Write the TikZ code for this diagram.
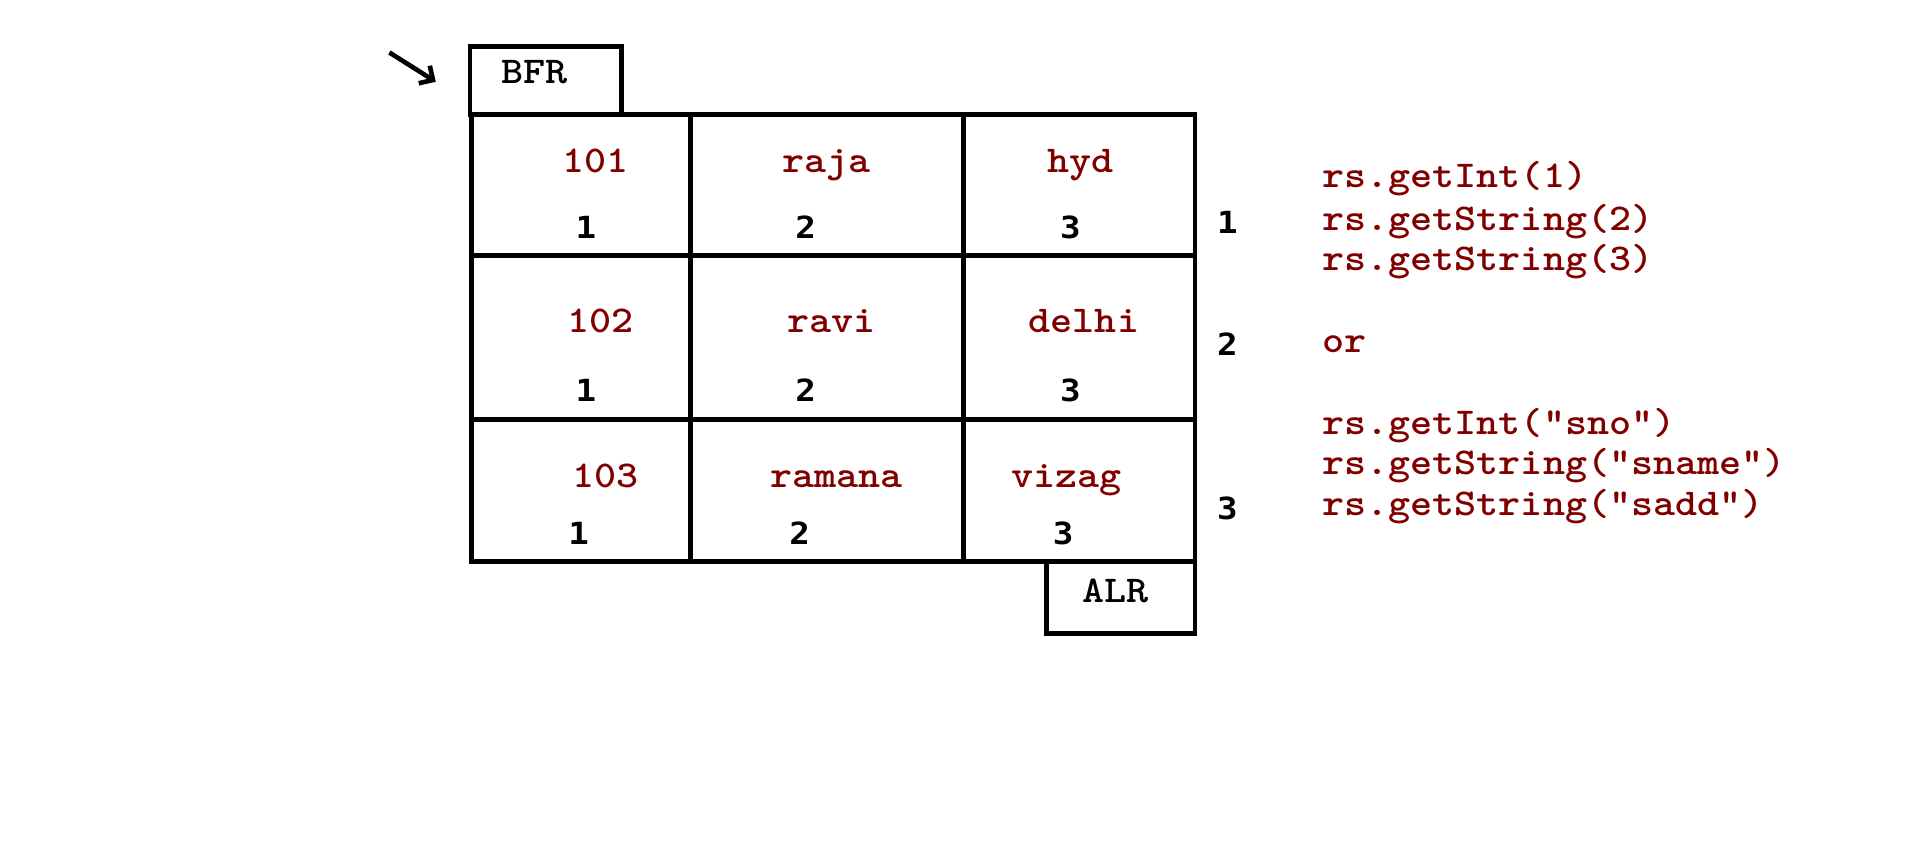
\documentclass[tikz,border=0pt]{standalone}
\usepackage{fontspec}
\newfontfamily\codefont{lmmonolt10-bold.otf}[FakeStretch=1.11]
\newfontfamily\numfont[FakeStretch=1.12]{DejaVu Sans Mono}
\usetikzlibrary{arrows.meta}

\tikzset{
  redval/.style={anchor=base,inner sep=0pt,font=\codefont\fontsize{15.5}{18}\selectfont,text={rgb,255:red,128;green,0;blue,0}},
  blkval/.style={anchor=base,inner sep=0pt,font=\codefont\fontsize{15.5}{18}\selectfont},
  idxnum/.style={anchor=base,inner sep=0pt,font=\numfont\bfseries\fontsize{12.5}{15}\selectfont},
  codeln/.style={anchor=base west,inner sep=0pt,font=\codefont\fontsize{15.5}{18}\selectfont,text={rgb,255:red,128;green,0;blue,0}},
  boxline/.style={line width=2pt}
}

\begin{document}
\begin{tikzpicture}[x=0.5pt,y=0.5pt,yscale=-1,xscale=1]
\useasboundingbox (0,0) rectangle (1568,710);

%Shape: BFR box
\draw [boxline] (385,38) rectangle (509,94);
%Shape: table
\draw [boxline] (386,94) rectangle (979,460);
\draw [boxline] (566,94) -- (566,460);
\draw [boxline] (789,94) -- (789,460);
\draw [boxline] (386,209) -- (979,209);
\draw [boxline] (386,344) -- (979,344);
%Shape: ALR box
\draw [boxline] (857,460) rectangle (979,519);

%Straight Lines: pointer
\coordinate (ptrS) at (319,43);
\coordinate (ptrE) at (357,67);
\draw [line width=1.9pt,-{Straight Barb[angle=90:6pt]}] (ptrS) -- (ptrE);

% Text Node
\draw (438,68.5) node (bfr) [blkval] {BFR};
% Text Node
\draw (914,493.5) node (alr) [blkval] {ALR};

% Text Node
\draw (488,141) node (v11) [redval] {101};
\draw (677,141) node (v12) [redval] {raja};
\draw (885,141) node (v13) [redval] {hyd};
\draw (480,195) node (n11) [idxnum] {1};
\draw (660,195) node (n12) [idxnum] {2};
\draw (877,195) node (n13) [idxnum] {3};
% Text Node
\draw (492,272.5) node (v21) [redval] {102};
\draw (681,272.5) node (v22) [redval] {ravi};
\draw (888,272.5) node (v23) [redval] {delhi};
\draw (480,329) node (n21) [idxnum] {1};
\draw (660,329) node (n22) [idxnum] {2};
\draw (877,329) node (n23) [idxnum] {3};
% Text Node
\draw (496,399.5) node (v31) [redval] {103};
\draw (685,399.5) node (v32) [redval] {ramana};
\draw (874,399.5) node (v33) [redval] {vizag};
\draw (474,446) node (n31) [idxnum] {1};
\draw (655,446) node (n32) [idxnum] {2};
\draw (871,446) node (n33) [idxnum] {3};

% Text Node: row numbers
\draw (1005.5,191) node (r1) [idxnum] {1};
\draw (1005.5,291.6) node (r2) [idxnum] {2};
\draw (1005.5,425.3) node (r3) [idxnum] {3};

% Text Node: getter calls
\draw (1083,154) node (c1) [codeln] {rs.getInt(1)};
\draw (1083,188.5) node (c2) [codeln] {rs.getString(2)};
\draw (1083,221.7) node (c3) [codeln] {rs.getString(3)};
\draw (1083,288.5) node (cor) [codeln] {or};
\draw (1083,355.6) node (c4) [codeln] {rs.getInt("sno")};
\draw (1083,389) node (c5) [codeln] {rs.getString("sname")};
\draw (1083,422.5) node (c6) [codeln] {rs.getString("sadd")};

\end{tikzpicture}
\end{document}
